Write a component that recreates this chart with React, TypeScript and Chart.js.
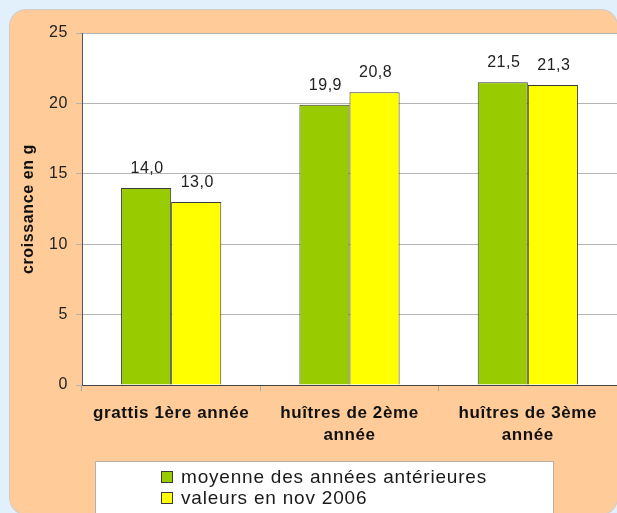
import React, { useEffect, useRef } from 'react';
import { Chart, registerables } from 'chart.js';

Chart.register(...registerables);

const categories: (string | string[])[] = [
  'grattis 1ère année',
  ['huîtres de 2ème', 'année'],
  ['huîtres de 3ème', 'année'],
];
const seriesNames = ['moyenne des années antérieures', 'valeurs en nov 2006'];
const moyenne = [14.0, 19.9, 21.5];
const nov2006 = [13.0, 20.8, 21.3];
const yMin = 0;
const yMax = 25;
const yStep = 5;
const yTitle = 'croissance en g';

const GREEN = '#99CC00';
const YELLOW = '#FFFF00';
const EDGE = '#3a3a3a';
const FONT = '"Liberation Sans", Arial, sans-serif';

const W = 617;
const H = 513;

export default function App() {
  const ref = useRef<HTMLCanvasElement | null>(null);

  useEffect(() => {
    const canvas = ref.current;
    if (!canvas) return;

    const bgPlugin = {
      id: 'bgPlugin',
      beforeDraw(chart: any) {
        const { ctx, chartArea } = chart;
        ctx.save();
        ctx.fillStyle = '#ffffff';
        ctx.fillRect(chartArea.left, chartArea.top, chartArea.right - chartArea.left, chartArea.bottom - chartArea.top);
        ctx.strokeStyle = '#a0a0a0';
        ctx.lineWidth = 1;
        ctx.beginPath();
        ctx.moveTo(chartArea.left, Math.round(chartArea.top) + 0.5);
        ctx.lineTo(chartArea.right, Math.round(chartArea.top) + 0.5);
        ctx.stroke();
        ctx.restore();
        (ctx as any).letterSpacing = '0.6px';
      },
    };

    const labelPlugin = {
      id: 'labelPlugin',
      afterDatasetsDraw(chart: any) {
        const ctx = chart.ctx;
        ctx.save();
        ctx.font = `16px ${FONT}`;
        (ctx as any).letterSpacing = '0.5px';
        ctx.fillStyle = '#222';
        ctx.textAlign = 'center';
        ctx.textBaseline = 'alphabetic';
        chart.data.datasets.forEach((ds: any, i: number) => {
          chart.getDatasetMeta(i).data.forEach((bar: any, j: number) => {
            const v = ds.data[j] as number;
            ctx.fillText(v.toFixed(1).replace('.', ','), bar.x + 1, bar.y - 15);
          });
        });
        ctx.restore();
      },
      afterDraw(chart: any) {
        const ctx = chart.ctx;
        ctx.save();
        (ctx as any).letterSpacing = '0px';
        ctx.fillStyle = '#ffffff';
        ctx.fillRect(95, 461, 458, 70);
        ctx.strokeStyle = '#b8b0a8';
        ctx.lineWidth = 1;
        ctx.strokeRect(95.5, 461.5, 458, 70);
        ctx.font = `19px ${FONT}`;
        (ctx as any).letterSpacing = '0.8px';
        ctx.textAlign = 'left';
        ctx.textBaseline = 'middle';
        chart.data.datasets.forEach((ds: any, i: number) => {
          const cy = 477 + i * 21;
          ctx.fillStyle = ds.backgroundColor;
          ctx.fillRect(161, cy - 6, 12, 12);
          ctx.strokeStyle = EDGE;
          ctx.strokeRect(161.5, cy - 5.5, 11, 11);
          ctx.fillStyle = '#1a1a1a';
          ctx.fillText(ds.label, 181, cy + 1);
        });
        ctx.restore();
      },
    };

    const chart = new Chart(canvas, {
      type: 'bar',
      data: {
        labels: categories,
        datasets: [
          {
            label: seriesNames[0],
            data: moyenne,
            backgroundColor: GREEN,
            borderColor: EDGE,
            borderWidth: 1,
            barPercentage: 1,
            categoryPercentage: 0.562,
          },
          {
            label: seriesNames[1],
            data: nov2006,
            backgroundColor: YELLOW,
            borderColor: EDGE,
            borderWidth: 1,
            barPercentage: 1,
            categoryPercentage: 0.562,
          },
        ],
      },
      options: {
        responsive: false,
        animation: false,
        devicePixelRatio: 1,
        layout: { padding: { top: 33, left: 19, right: 0, bottom: 0 } },
        plugins: {
          legend: { display: false },
          tooltip: { enabled: false },
          title: { display: false },
        },
        scales: {
          x: {
            offset: true,
            grid: {
              display: true,
              offset: true,
              drawOnChartArea: false,
              drawTicks: true,
              tickLength: 6,
              color: '#a8a8a8',
            },
            border: { display: true, color: '#444', width: 1 },
            ticks: {
              color: '#111',
              font: { family: FONT, size: 17, weight: 'bold', lineHeight: 1.25 },
              padding: 12,
              maxRotation: 0,
              autoSkip: false,
            },
            afterFit(scale: any) {
              scale.height = H - 385;
            },
          },
          y: {
            min: yMin,
            max: yMax,
            grid: {
              color: '#b4b4b4',
              tickLength: 6,
              drawTicks: true,
            },
            border: { display: true, color: '#555', width: 1 },
            ticks: {
              stepSize: yStep,
              color: '#222',
              padding: 8,
              font: { family: FONT, size: 16 },
            },
            title: {
              display: true,
              text: yTitle,
              color: '#111',
              font: { family: FONT, size: 16, weight: 'bold' },
              padding: { top: 0, bottom: 0 },
            },
            afterFit(scale: any) {
              scale.width = 82 - 19;
            },
          },
        },
      },
      plugins: [bgPlugin, labelPlugin],
    } as any);

    return () => chart.destroy();
  }, []);

  return (
    <div
      style={{
        position: 'fixed',
        left: 0,
        top: 0,
        width: W,
        height: H,
        overflow: 'hidden',
        background: '#E2F0FC',
      }}
    >
      <div
        style={{
          position: 'absolute',
          left: 10,
          top: 10,
          width: 607,
          height: 504,
          background: '#FFCC99',
          borderRadius: 16,
          boxShadow: '0 0 0 1px rgba(170,140,110,0.35)',
        }}
      />
      <canvas
        ref={ref}
        width={W}
        height={H}
        style={{ position: 'absolute', left: 0, top: 0, width: W, height: H }}
      />
    </div>
  );
}
